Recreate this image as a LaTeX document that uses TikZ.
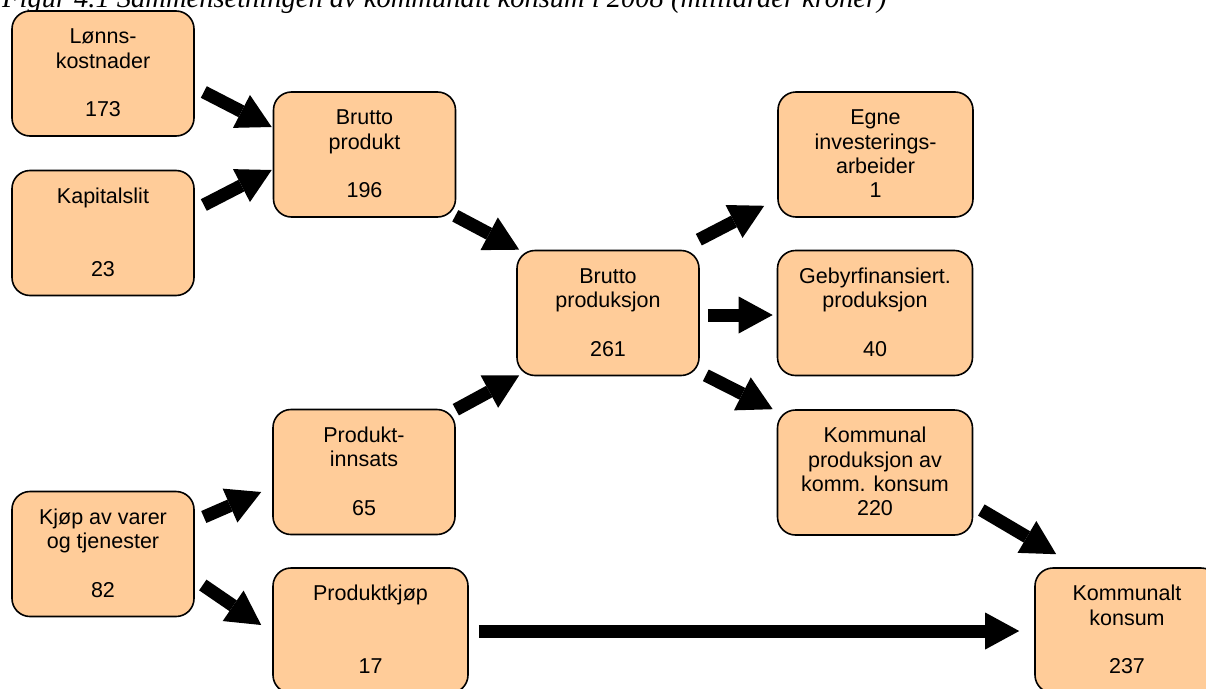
\documentclass[tikz,border=0pt]{standalone}
\usepackage{fontspec}
\setmainfont{Liberation Sans}
\newfontfamily\titlefont{Liberation Serif}
\usetikzlibrary{arrows.meta}
\definecolor{boxfill}{HTML}{FFCC99}
\newcommand{\rowstrut}{\rule[-5.3pt]{0pt}{24.3pt}}
\newcommand{\boxtext}[4]{{\renewcommand{\arraystretch}{0}\begin{tabular}{@{}c@{}}\rowstrut#1\\\rowstrut#2\\\rowstrut#3\\\rowstrut#4\end{tabular}}}
\tikzset{
  boxnode/.style={draw=black, line width=1.6pt, fill=boxfill, rounded corners=18pt,
    inner sep=0pt, minimum height=125pt, minimum width=182pt,
    font=\fontsize{21.5}{24.3}\selectfont, text=black},
  widebox/.style={boxnode, minimum width=195pt},
  bigarrow/.style={line width=13pt, -{Triangle[width=37pt,length=34pt,line width=0pt]}}
}
\begin{document}
\begin{tikzpicture}[x=1pt,y=-1pt]
\useasboundingbox (0,0) rectangle (1206,688);
\node[anchor=base west, inner sep=0pt, font=\titlefont\itshape\fontsize{28.5}{32}\selectfont] (title) at (2,8)
  {Figur 4.1 Sammensetningen av kommunalt konsum i 2008 (milliarder kroner)};
\node[boxnode] (lon) at (103,73.5) {\boxtext{Lønns-}{kostnader}{}{173}};
\node[boxnode] (kap) at (103,233) {\boxtext{Kapitalslit}{}{}{23}};
\node[boxnode] (bp) at (364.5,154.5) {\boxtext{Brutto}{produkt}{}{196}};
\node[boxnode] (bprod) at (608,313) {\boxtext{Brutto}{produksjon}{}{261}};
\node[widebox] (egne) at (875.5,154.5) {\boxtext{Egne}{investerings-}{arbeider}{1}};
\node[widebox] (geb) at (875,313) {\boxtext{Gebyrfinansiert.}{produksjon}{}{40}};
\node[widebox] (kom) at (875,472.5) {\boxtext{Kommunal}{produksjon av}{komm. konsum}{220}};
\node[boxnode] (pi) at (364,472) {\boxtext{Produkt-}{innsats}{}{65}};
\node[boxnode] (kjop) at (103,554) {\boxtext{Kjøp av varer}{og tjenester}{}{82}};
\node[widebox] (pk) at (370.5,630.5) {\boxtext{Produktkjøp}{}{}{17}};
\node[boxnode, minimum width=184pt] (kk) at (1127,630.5) {\boxtext{Kommunalt}{konsum}{}{237}};

\draw[bigarrow] ([shift={(9,18.5)}]lon.east) -- ([shift={(-1,-27.5)}]bp.west);
\draw[bigarrow] ([shift={(9,-28)}]kap.east) -- ([shift={(-1,15.5)}]bp.west);
\draw[bigarrow] ([shift={(-1,-2)}]bp.south east) -- ([shift={(3,0)}]bprod.north west);
\draw[bigarrow] ([shift={(0,1)}]pi.north east) -- ([shift={(3,-1)}]bprod.south west);
\draw[bigarrow] ([shift={(-1,-10)}]bprod.north east) -- ([shift={(-13,-12)}]egne.south west);
\draw[bigarrow] ([shift={(8,2)}]bprod.east) -- ([shift={(-4,2)}]geb.west);
\draw[bigarrow] ([shift={(6,-1)}]bprod.south east) -- ([shift={(-4,0)}]kom.north west);
\draw[bigarrow] ([shift={(9,-37)}]kjop.east) -- ([shift={(-11,20)}]pi.west);
\draw[bigarrow] ([shift={(8,31)}]kjop.east) -- ([shift={(-11,-5.5)}]pk.west);
\draw[bigarrow] ([shift={(10,0.5)}]pk.east) -- ([shift={(-15,0.5)}]kk.west);
\draw[bigarrow] ([shift={(8,37.5)}]kom.east) -- ([shift={(22,-13)}]kk.north west);
\end{tikzpicture}
\end{document}
